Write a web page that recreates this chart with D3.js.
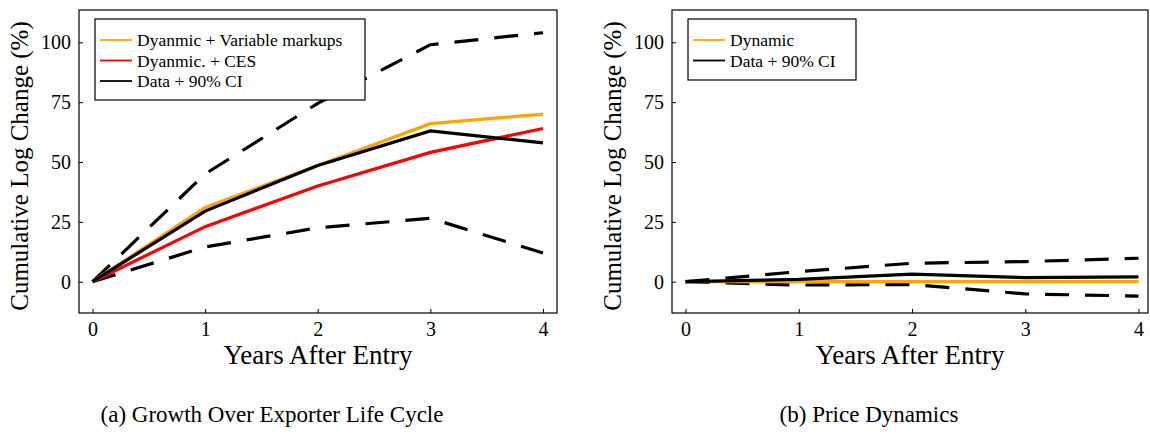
<!DOCTYPE html>
<html>
<head>
<meta charset="utf-8">
<title>Exporter life cycle</title>
<script src="https://cdn.jsdelivr.net/npm/d3@7/dist/d3.min.js"></script>
<style>
    body { margin: 0; background: #fff; }
    text { font-family: "Liberation Serif", "DejaVu Serif", serif; fill: #000; }
</style>
</head>
<body>
<div id="chart"></div>
<script>
    // data
    var years = [0, 1, 2, 3, 4];
    var yTicks = [0, 25, 50, 75, 100];

    // panel (a)
    var growthVarMarkups = [0, 31, 48.5, 66, 70];
    var growthCES = [0, 23, 40, 54, 64];
    var growthData = [0, 29.5, 48.5, 63, 58];
    var growthUpper = [0, 45, 74.5, 99, 104];
    var growthLower = [0, 14.5, 22.5, 26.5, 12];

    // panel (b)
    var priceDynamic = [0, 0, 0, 0, 0];
    var priceData = [0, 1, 3.2, 1.7, 2];
    var priceUpper = [0, 4.2, 7.7, 8.4, 9.8];
    var priceLower = [0, -1.4, -1.2, -5.1, -6];

    var W = 1150, H = 434;
    var svg = d3.select("#chart").append("svg")
        .attr("width", W)
        .attr("height", H);

    var dash = "24,16";

    var panels = [{
        left: 79, right: 557, x0: 92.5, x1: 543, labelX: 20,
        caption: "(a) Growth Over Exporter Life Cycle", capShift: -46,
        series: [
            { values: growthUpper, color: "#000", dash: dash },
            { values: growthLower, color: "#000", dash: dash },
            { values: growthCES, color: "#ff0000" },
            { values: growthVarMarkups, color: "#ffa500" },
            { values: growthData, color: "#000" }
        ],
        legend: [
            { name: "Dyanmic + Variable markups", color: "#ffa500" },
            { name: "Dyanmic. + CES", color: "#ff0000" },
            { name: "Data + 90% CI", color: "#000" }
        ],
        legendW: 270
    }, {
        left: 672, right: 1148, x0: 685.5, x1: 1138.5, labelX: 613,
        caption: "(b) Price Dynamics", capShift: -41,
        series: [
            { values: priceUpper, color: "#000", dash: dash },
            { values: priceLower, color: "#000", dash: dash },
            { values: priceDynamic, color: "#ffa500" },
            { values: priceData, color: "#000" }
        ],
        legend: [
            { name: "Dynamic", color: "#ffa500" },
            { name: "Data + 90% CI", color: "#000" }
        ],
        legendW: 168
    }];

    var plotTop = 10, plotBottom = 313;

    var y = d3.scaleLinear()
        .domain([0, 100])
        .range([281.7, 42.3]);

    panels.forEach(function(p) {
        var x = d3.scaleLinear()
            .domain([0, 4])
            .range([p.x0, p.x1]);

        var g = svg.append("g");

        // lines
        var line = d3.line()
            .x(function(d, i) { return x(years[i]); })
            .y(function(d) { return y(d); });

        p.series.forEach(function(s) {
            g.append("path")
                .datum(s.values)
                .attr("d", line)
                .attr("fill", "none")
                .attr("stroke", s.color)
                .attr("stroke-width", 3.2)
                .attr("stroke-dasharray", s.dash || null);
        });

        // frame
        g.append("rect")
            .attr("x", p.left)
            .attr("y", plotTop)
            .attr("width", p.right - p.left)
            .attr("height", plotBottom - plotTop)
            .attr("fill", "none")
            .attr("stroke", "#000")
            .attr("stroke-width", 1.2);

        // axes, ticks point inward
        var xAxis = g.append("g")
            .attr("transform", "translate(0," + plotBottom + ")")
            .call(d3.axisBottom(x).tickValues(years).tickSize(-4).tickFormat(d3.format("d")));
        var yAxis = g.append("g")
            .attr("transform", "translate(" + p.left + ",0)")
            .call(d3.axisLeft(y).tickValues(yTicks).tickSize(-4));

        [xAxis, yAxis].forEach(function(a) {
            a.select(".domain").remove();
            a.selectAll("line").attr("stroke", "#000").attr("stroke-width", 1);
            a.selectAll("text")
                .style("font-family", '"Liberation Serif", serif')
                .attr("font-size", 20);
        });
        xAxis.selectAll("text").attr("y", 8).attr("dy", "0.75em");
        yAxis.selectAll("text").attr("x", -8);

        // axis titles
        g.append("text")
            .attr("transform", "translate(" + (p.labelX + 8) + "," + 166 + ") rotate(-90)")
            .attr("text-anchor", "middle")
            .attr("font-size", 25)
            .text("Cumulative Log Change (%)");

        g.append("text")
            .attr("x", (p.left + p.right) / 2)
            .attr("y", 364)
            .attr("text-anchor", "middle")
            .attr("font-size", 27)
            .text("Years After Entry");

        g.append("text")
            .attr("x", (p.left + p.right) / 2 + p.capShift)
            .attr("y", 422)
            .attr("text-anchor", "middle")
            .attr("font-size", 23)
            .text(p.caption);

        // legend
        var lx = p.left + 16, ly = 19;
        var leg = g.append("g");
        leg.append("rect")
            .attr("x", lx)
            .attr("y", ly)
            .attr("width", p.legendW)
            .attr("height", 20 * p.legend.length + 21)
            .attr("fill", "#fff")
            .attr("stroke", "#000")
            .attr("stroke-width", 1.2);

        p.legend.forEach(function(e, i) {
            var cy = ly + 21 + i * 20.5;
            leg.append("line")
                .attr("x1", lx + 5)
                .attr("x2", lx + 37)
                .attr("y1", cy)
                .attr("y2", cy)
                .attr("stroke", e.color)
                .attr("stroke-width", 1.8);
            leg.append("text")
                .attr("x", lx + 42)
                .attr("y", cy)
                .attr("dy", "0.35em")
                .attr("font-size", 17.5)
                .text(e.name);
        });
    });
</script>
</body>
</html>
